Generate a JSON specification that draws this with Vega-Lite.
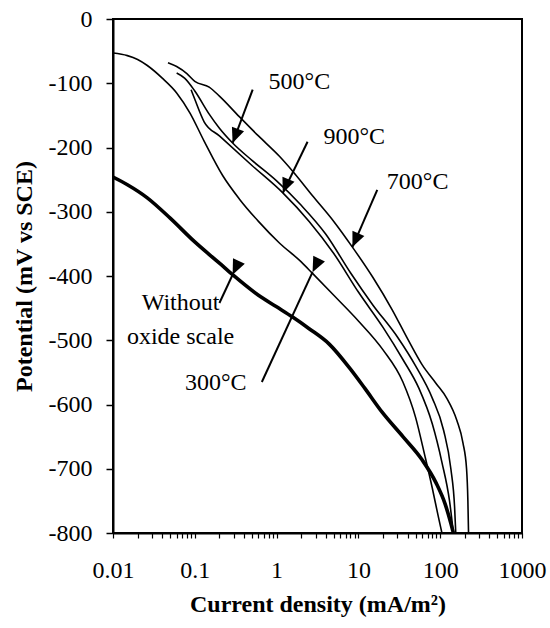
{
  "$schema": "https://vega.github.io/schema/vega-lite/v6.json",
  "width": 409,
  "height": 514,
  "autosize": {"type": "none"},
  "padding": {"left": 113, "top": 19, "right": 28, "bottom": 95},
  "background": "white",
  "config": {
    "view": {"stroke": "black", "strokeWidth": 2},
    "font": "Liberation Serif"
  },
  "datasets": {
    "curves": [
      {"series": "Without oxide scale", "k": 1, "i": 0.01, "E": -246},
      {"series": "Without oxide scale", "k": 2, "i": 0.015, "E": -258},
      {"series": "Without oxide scale", "k": 3, "i": 0.026, "E": -278},
      {"series": "Without oxide scale", "k": 4, "i": 0.05, "E": -310},
      {"series": "Without oxide scale", "k": 5, "i": 0.1, "E": -347},
      {"series": "Without oxide scale", "k": 6, "i": 0.2, "E": -380},
      {"series": "Without oxide scale", "k": 7, "i": 0.29, "E": -398},
      {"series": "Without oxide scale", "k": 8, "i": 0.6, "E": -430},
      {"series": "Without oxide scale", "k": 9, "i": 1, "E": -448},
      {"series": "Without oxide scale", "k": 10, "i": 1.57, "E": -464},
      {"series": "Without oxide scale", "k": 11, "i": 2.5, "E": -482},
      {"series": "Without oxide scale", "k": 12, "i": 4.4, "E": -506},
      {"series": "Without oxide scale", "k": 13, "i": 8, "E": -545},
      {"series": "Without oxide scale", "k": 14, "i": 12, "E": -575},
      {"series": "Without oxide scale", "k": 15, "i": 19.5, "E": -612},
      {"series": "Without oxide scale", "k": 16, "i": 35, "E": -650},
      {"series": "Without oxide scale", "k": 17, "i": 60, "E": -686},
      {"series": "Without oxide scale", "k": 18, "i": 89, "E": -722},
      {"series": "Without oxide scale", "k": 19, "i": 115, "E": -755},
      {"series": "Without oxide scale", "k": 20, "i": 135, "E": -785},
      {"series": "Without oxide scale", "k": 21, "i": 145, "E": -800},

      {"series": "300", "k": 1, "i": 0.01, "E": -53},
      {"series": "300", "k": 2, "i": 0.015, "E": -57},
      {"series": "300", "k": 3, "i": 0.02, "E": -63},
      {"series": "300", "k": 4, "i": 0.026, "E": -72},
      {"series": "300", "k": 5, "i": 0.04, "E": -92},
      {"series": "300", "k": 6, "i": 0.06, "E": -115},
      {"series": "300", "k": 7, "i": 0.087, "E": -146},
      {"series": "300", "k": 8, "i": 0.13, "E": -190},
      {"series": "300", "k": 9, "i": 0.22, "E": -244},
      {"series": "300", "k": 10, "i": 0.35, "E": -280},
      {"series": "300", "k": 11, "i": 0.6, "E": -315},
      {"series": "300", "k": 12, "i": 1.09, "E": -349},
      {"series": "300", "k": 13, "i": 2, "E": -378},
      {"series": "300", "k": 14, "i": 2.75, "E": -396},
      {"series": "300", "k": 15, "i": 5, "E": -430},
      {"series": "300", "k": 16, "i": 10, "E": -470},
      {"series": "300", "k": 17, "i": 20, "E": -515},
      {"series": "300", "k": 18, "i": 35, "E": -565},
      {"series": "300", "k": 19, "i": 50, "E": -620},
      {"series": "300", "k": 20, "i": 65, "E": -680},
      {"series": "300", "k": 21, "i": 80, "E": -730},
      {"series": "300", "k": 22, "i": 95, "E": -775},
      {"series": "300", "k": 23, "i": 105, "E": -800},

      {"series": "500", "k": 1, "i": 0.06, "E": -84},
      {"series": "500", "k": 2, "i": 0.075, "E": -92},
      {"series": "500", "k": 3, "i": 0.1, "E": -112},
      {"series": "500", "k": 4, "i": 0.15, "E": -148},
      {"series": "500", "k": 5, "i": 0.2, "E": -170},
      {"series": "500", "k": 6, "i": 0.29, "E": -193},
      {"series": "500", "k": 7, "i": 0.5, "E": -220},
      {"series": "500", "k": 8, "i": 1, "E": -252},
      {"series": "500", "k": 9, "i": 2, "E": -290},
      {"series": "500", "k": 10, "i": 4, "E": -335},
      {"series": "500", "k": 11, "i": 8, "E": -395},
      {"series": "500", "k": 12, "i": 15, "E": -445},
      {"series": "500", "k": 13, "i": 30, "E": -495},
      {"series": "500", "k": 14, "i": 50, "E": -540},
      {"series": "500", "k": 15, "i": 80, "E": -590},
      {"series": "500", "k": 16, "i": 110, "E": -640},
      {"series": "500", "k": 17, "i": 135, "E": -700},
      {"series": "500", "k": 18, "i": 150, "E": -760},
      {"series": "500", "k": 19, "i": 155, "E": -800},

      {"series": "900", "k": 1, "i": 0.09, "E": -110},
      {"series": "900", "k": 2, "i": 0.1, "E": -125},
      {"series": "900", "k": 3, "i": 0.13, "E": -160},
      {"series": "900", "k": 4, "i": 0.2, "E": -182},
      {"series": "900", "k": 5, "i": 0.5, "E": -228},
      {"series": "900", "k": 6, "i": 1.2, "E": -271},
      {"series": "900", "k": 7, "i": 2.5, "E": -315},
      {"series": "900", "k": 8, "i": 5, "E": -365},
      {"series": "900", "k": 9, "i": 10, "E": -425},
      {"series": "900", "k": 10, "i": 20, "E": -480},
      {"series": "900", "k": 11, "i": 35, "E": -530},
      {"series": "900", "k": 12, "i": 55, "E": -575},
      {"series": "900", "k": 13, "i": 80, "E": -630},
      {"series": "900", "k": 14, "i": 105, "E": -690},
      {"series": "900", "k": 15, "i": 130, "E": -750},
      {"series": "900", "k": 16, "i": 145, "E": -800},

      {"series": "700", "k": 1, "i": 0.047, "E": -68},
      {"series": "700", "k": 2, "i": 0.06, "E": -74},
      {"series": "700", "k": 3, "i": 0.08, "E": -85},
      {"series": "700", "k": 4, "i": 0.1, "E": -97},
      {"series": "700", "k": 5, "i": 0.15, "E": -106},
      {"series": "700", "k": 6, "i": 0.2, "E": -120},
      {"series": "700", "k": 7, "i": 0.35, "E": -152},
      {"series": "700", "k": 8, "i": 0.6, "E": -182},
      {"series": "700", "k": 9, "i": 1.09, "E": -214},
      {"series": "700", "k": 10, "i": 1.6, "E": -238},
      {"series": "700", "k": 11, "i": 2.75, "E": -275},
      {"series": "700", "k": 12, "i": 5, "E": -315},
      {"series": "700", "k": 13, "i": 8.45, "E": -355},
      {"series": "700", "k": 14, "i": 15, "E": -402},
      {"series": "700", "k": 15, "i": 26, "E": -453},
      {"series": "700", "k": 16, "i": 40, "E": -498},
      {"series": "700", "k": 17, "i": 60, "E": -538},
      {"series": "700", "k": 18, "i": 90, "E": -568},
      {"series": "700", "k": 19, "i": 120, "E": -590},
      {"series": "700", "k": 20, "i": 160, "E": -625},
      {"series": "700", "k": 21, "i": 190, "E": -660},
      {"series": "700", "k": 22, "i": 210, "E": -700},
      {"series": "700", "k": 23, "i": 218, "E": -750},
      {"series": "700", "k": 24, "i": 222, "E": -800}
    ],
    "arrows": [
      {"label": "500", "i": 0.51, "E": -110, "i2": 0.29, "E2": -193},
      {"label": "900", "i": 2.39, "E": -191, "i2": 1.19, "E2": -271},
      {"label": "700", "i": 17, "E": -266, "i2": 8.45, "E2": -355},
      {"label": "without", "i": 0.2, "E": -442, "i2": 0.29, "E2": -398},
      {"label": "300", "i": 0.66, "E": -565, "i2": 2.75, "E2": -394}
    ],
    "texts": [
      {"text": "500°C", "i": 1.9, "E": -98},
      {"text": "900°C", "i": 8.9, "E": -184},
      {"text": "700°C", "i": 53, "E": -254},
      {"text": "Without", "i": 0.067, "E": -442},
      {"text": "oxide scale", "i": 0.067, "E": -495},
      {"text": "300°C", "i": 0.18, "E": -566}
    ]
  },
  "layer": [
    {
      "data": {"name": "curves"},
      "transform": [{"filter": "datum.series !== 'Without oxide scale'"}],
      "mark": {"type": "line", "color": "black", "strokeWidth": 1.6, "clip": true, "interpolate": "monotone"},
      "encoding": {
        "x": {
          "field": "i", "type": "quantitative",
          "scale": {"type": "log", "domain": [0.01, 1000], "nice": false},
          "axis": {
            "values": [0.01,0.02,0.03,0.04,0.05,0.06,0.07,0.08,0.09,0.1,0.2,0.3,0.4,0.5,0.6,0.7,0.8,0.9,1,2,3,4,5,6,7,8,9,10,20,30,40,50,60,70,80,90,100,200,300,400,500,600,700,800,900,1000],
            "labelExpr": "abs(log(datum.value)/LN10 - round(log(datum.value)/LN10)) < 0.000001 ? '' + datum.value : ''",
            "title": "Current density (mA/m²)",
            "titleFont": "Liberation Serif", "titleFontSize": 24, "titleFontWeight": "bold", "titleColor": "black",
            "titlePadding": 10,
            "labelFont": "Liberation Serif", "labelFontSize": 24, "labelColor": "black",
            "labelPadding": 20, "labelFlush": false, "labelOverlap": false, "labelBound": false,
            "tickSize": 5, "tickColor": "black", "tickWidth": 1.2,
            "domainColor": "black", "domainWidth": 2, "grid": false
          }
        },
        "y": {
          "field": "E", "type": "quantitative",
          "scale": {"domain": [-800, 0], "nice": false, "zero": false},
          "axis": {
            "values": [0,-100,-200,-300,-400,-500,-600,-700,-800],
            "labelExpr": "'' + datum.value",
            "title": "Potential (mV vs SCE)",
            "titleFont": "Liberation Serif", "titleFontSize": 24, "titleFontWeight": "bold", "titleColor": "black",
            "titlePadding": 12,
            "labelFont": "Liberation Serif", "labelFontSize": 24, "labelColor": "black",
            "labelPadding": 14, "labelFlush": false, "labelOverlap": false, "labelBound": false,
            "tickSize": 7, "tickColor": "black", "tickWidth": 1.5,
            "domainColor": "black", "domainWidth": 2, "grid": false
          }
        },
        "detail": {"field": "series"},
        "order": {"field": "k", "type": "quantitative"}
      }
    },
    {
      "data": {"name": "curves"},
      "transform": [{"filter": "datum.series === 'Without oxide scale'"}],
      "mark": {"type": "line", "color": "black", "strokeWidth": 3.6, "clip": true, "interpolate": "monotone"},
      "encoding": {
        "x": {"field": "i", "type": "quantitative"},
        "y": {"field": "E", "type": "quantitative"},
        "order": {"field": "k", "type": "quantitative"}
      }
    },
    {
      "data": {"name": "arrows"},
      "mark": {"type": "rule", "color": "black", "strokeWidth": 2},
      "encoding": {
        "x": {"field": "i", "type": "quantitative"},
        "y": {"field": "E", "type": "quantitative"},
        "x2": {"field": "i2"},
        "y2": {"field": "E2"}
      }
    },
    {
      "data": {"name": "arrows"},
      "mark": {"type": "point", "filled": true, "color": "black", "opacity": 1, "shape": "M0,0L-0.65,1.5L0.65,1.5Z", "size": 400, "strokeWidth": 0},
      "encoding": {
        "x": {"field": "i2", "type": "quantitative"},
        "y": {"field": "E2", "type": "quantitative"},
        "angle": {
          "field": "label", "type": "nominal",
          "scale": {"domain": ["500", "900", "700", "without", "300"], "range": [201, 206, 204, 25, 25]},
          "legend": null
        }
      }
    },
    {
      "data": {"name": "texts"},
      "mark": {"type": "text", "font": "Liberation Serif", "fontSize": 24, "color": "black", "align": "center", "baseline": "middle"},
      "encoding": {
        "x": {"field": "i", "type": "quantitative"},
        "y": {"field": "E", "type": "quantitative"},
        "text": {"field": "text"}
      }
    }
  ]
}
